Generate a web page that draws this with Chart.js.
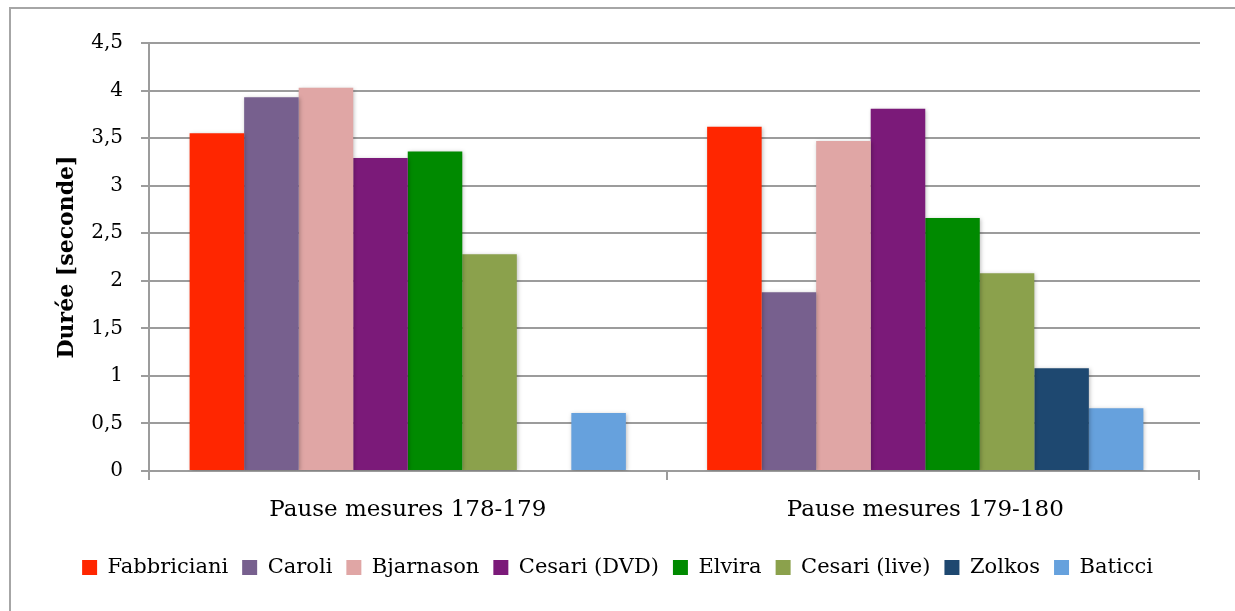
<!DOCTYPE html>
<html>
<head>
<meta charset="utf-8">
<script src="https://cdn.jsdelivr.net/npm/chart.js@4.4.1/dist/chart.umd.min.js"></script>
<style>
  html, body { margin: 0; padding: 0; background: #fff; }
  #wrap { width: 1235px; height: 611px; position: relative; }
</style>
</head>
<body>
<div id="wrap"><canvas id="myBarChart" width="1235" height="611"></canvas></div>
<script>
// data
var categories = ['Pause mesures 178-179', 'Pause mesures 179-180'];
var performers = ['Fabbriciani', 'Caroli', 'Bjarnason', 'Cesari (DVD)', 'Elvira', 'Cesari (live)', 'Zolkos', 'Baticci'];
var fabbriciani = [3.55, 3.62];
var caroli = [3.93, 1.88];
var bjarnason = [4.03, 3.47];
var cesariDvd = [3.29, 3.81];
var elvira = [3.36, 2.66];
var cesariLive = [2.28, 2.08];
var zolkos = [null, 1.08];
var baticci = [0.61, 0.66];
var yTicks = [0, 0.5, 1, 1.5, 2, 2.5, 3, 3.5, 4, 4.5];

var seriesValues = [fabbriciani, caroli, bjarnason, cesariDvd, elvira, cesariLive, zolkos, baticci];
var colors = ['#ff2600', '#77608e', '#e0a6a5', '#7b1a79', '#008a00', '#8ba14c', '#1e4870', '#66a1dd'];

var FONT = 'DejaVu Serif';
var GRID = '#9c9c9c';
var DEPTH = 16; // the excel floor sticks out a bit to the right of the bars

var frame = {
    id: 'frame',
    beforeDraw: function(chart) {
        var c = chart.ctx;
        c.save();
        c.fillStyle = '#fff';
        c.fillRect(0, 0, chart.width, chart.height);
        c.strokeStyle = '#a6a6a6';
        c.lineWidth = 2;
        c.strokeRect(10, 8, chart.width + 20, chart.height + 20);
        c.restore();
    },
    beforeDatasetsDraw: function(chart) {
        // gridlines run on a little past the last category
        var c = chart.ctx, y = chart.scales.y, area = chart.chartArea;
        c.save();
        c.strokeStyle = GRID;
        c.lineWidth = 2;
        yTicks.forEach(function(v) {
            var py = Math.round(y.getPixelForValue(v));
            c.beginPath();
            c.moveTo(area.right - 1, py);
            c.lineTo(area.right + DEPTH, py);
            c.stroke();
        });
        c.beginPath();
        c.moveTo(area.right + DEPTH - 1, area.bottom);
        c.lineTo(area.right + DEPTH - 1, area.bottom + 9);
        c.stroke();
        c.restore();

        c.save();
        c.shadowColor = 'rgba(0,0,0,0.25)';
        c.shadowBlur = 4;
        c.shadowOffsetX = 1;
        c.shadowOffsetY = 1;
    },
    afterDatasetsDraw: function(chart) {
        chart.ctx.restore();
    }
};

var datasets = performers.map(function(name, i) {
    return {
        label: name,
        data: seriesValues[i],
        backgroundColor: colors[i],
        borderWidth: 0,
        categoryPercentage: 0.843,
        barPercentage: 1.0
    };
});

var ctx = document.getElementById('myBarChart').getContext('2d');
var myBarChart = new Chart(ctx, {
    type: 'bar',
    data: { labels: categories, datasets: datasets },
    plugins: [frame],
    options: {
        responsive: false,
        animation: false,
        layout: { padding: { left: 51, right: 35 + DEPTH, top: 43, bottom: 23 } },
        plugins: {
            tooltip: { enabled: false },
            legend: {
                position: 'bottom',
                labels: {
                    font: { family: FONT, size: 21 },
                    color: '#000',
                    boxWidth: 15,
                    boxHeight: 15,
                    padding: 14
                }
            }
        },
        scales: {
            x: {
                afterFit: function(scale) { scale.height = 72; },
                grid: {
                    offset: true,
                    drawOnChartArea: false,
                    tickLength: 9,
                    // last boundary tick is drawn further right by the plugin
                    color: function(c) { return c.type === 'tick' ? GRID : 'rgba(0,0,0,0)'; },
                    lineWidth: 2
                },
                border: { color: GRID, width: 2 },
                ticks: {
                    font: { family: FONT, size: 23 },
                    color: '#000',
                    padding: 16
                }
            },
            y: {
                min: 0,
                max: 4.5,
                afterFit: function(scale) { scale.width = 98; },
                afterBuildTicks: function(scale) {
                    scale.ticks = yTicks.map(function(v) { return { value: v }; });
                },
                grid: { color: GRID, lineWidth: 2, tickLength: 8 },
                border: { color: GRID, width: 2 },
                ticks: {
                    font: { family: FONT, size: 20 },
                    color: '#000',
                    padding: 18,
                    callback: function(v) { return String(v).replace('.', ','); }
                },
                title: {
                    display: true,
                    text: 'Durée [seconde]',
                    font: { family: FONT, size: 22, weight: 'bold' },
                    color: '#000',
                    padding: 3
                }
            }
        }
    }
});
</script>
</body>
</html>
